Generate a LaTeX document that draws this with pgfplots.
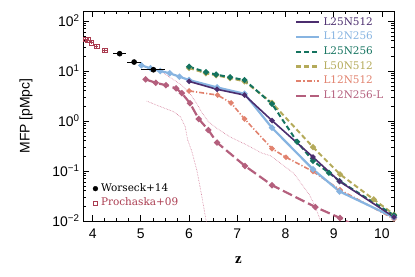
\documentclass[border=0pt]{standalone}
\usepackage{pgfplots}
\pgfplotsset{compat=1.18}
\usepackage{fontspec}
\setmainfont{Liberation Sans}
\newfontfamily\serif{DejaVu Serif}
\newfontfamily\bserif{Liberation Serif}
\definecolor{cPurple}{RGB}{75,45,110}
\definecolor{cBlue}{RGB}{135,180,225}
\definecolor{cTeal}{RGB}{20,115,95}
\definecolor{cOlive}{RGB}{180,170,90}
\definecolor{cSalmon}{RGB}{225,130,110}
\definecolor{cMauve}{RGB}{180,95,125}
\definecolor{cDot}{RGB}{210,120,150}
\definecolor{cProch}{RGB}{170,60,80}
\begin{document}
\begin{tikzpicture}
\begin{axis}[name=ax,
  scale only axis, width=311bp, height=210bp,
  xmin=3.8, xmax=10.25, ymode=log, ymin=0.01, ymax=158.49,
  /pgf/number format/assume math mode=true,
  axis line style={line width=1bp},
  xtick={4,5,6,7,8,9,10}, minor x tick num=3,
  ytick={0.01,0.1,1,10,100},
  yticklabels={10\textsuperscript{−2},10\textsuperscript{−1},10\textsuperscript{0},10\textsuperscript{1},10\textsuperscript{2}},
  tick align=inside, major tick length=6bp, minor tick length=3bp,
  every tick/.style={black, line width=0.8bp},
  tick label style={font=\fontsize{14}{14}\selectfont},
  xticklabel style={yshift=-4bp},
  xlabel={\bserif\bfseries z}, xlabel style={font=\fontsize{15}{15}\selectfont, at={(axis description cs:0.5,-0.186)}, anchor=center},
  ylabel={MFP [pMpc]}, ylabel style={font=\fontsize{14}{14}\selectfont, at={(axis description cs:-0.183,0.5)}, anchor=center},
  legend style={draw=none, fill=none, inner sep=0pt, at={(axis description cs:0.682,0.972)}, anchor=north west,
    font=\serif\fontsize{10.5}{10.5}\selectfont, row sep=4.2bp,
    nodes={inner ysep=0pt, inner xsep=3bp, text height=8bp, text depth=2.5bp},
    /tikz/every even column/.append style={column sep=5bp}},
  legend cell align=left,
  legend image code/.code={\draw[#1] (0bp,0bp) -- (23bp,0bp);},
]
% dotted lines
\addplot[cDot, line width=0.6bp, densely dotted, forget plot] coordinates {
 (5.12,2.5) (5.4,1.95) (5.68,1.53) (5.82,1.22) (5.92,0.77) (5.97,0.42) (6.05,0.26) (6.16,0.105) (6.26,0.033) (6.35,0.0105) (6.37,0.009)};
\addplot[cDot, line width=0.6bp, densely dotted, forget plot] coordinates {
 (5.4,10.0) (5.6,7.5) (5.85,5.2) (6.05,3.2) (6.15,2.3) (6.26,1.5) (6.4,0.97) (6.58,0.71) (6.85,0.48) (7.2,0.33) (7.5,0.23) (7.7,0.2) (8.17,0.09) (8.5,0.033) (8.62,0.019) (8.72,0.0105) (8.74,0.009)};
% L12N256-L
\addplot[cMauve, line width=2.2bp, dash pattern=on 10bp off 4bp, mark=*, mark size=1.8bp, mark options={solid}, forget plot] coordinates {
 (5.10,6.8) (5.31,5.8) (5.52,5.2) (5.73,4.5) (5.85,3.6) (6.02,2.26) (6.2,1.1) (6.4,0.66) (6.58,0.37) (7.16,0.126) (7.72,0.052) (8.62,0.019) (9.13,0.0115) (9.5,0.0075)};
% L12N512
\addplot[cSalmon, line width=1.6bp, dash pattern=on 5bp off 2bp on 1.2bp off 2bp, mark=*, mark size=1.8bp, mark options={solid}, forget plot] coordinates {
 (6.0,4.0) (6.59,3.3) (6.87,2.3) (7.15,1.1) (7.72,0.28) (8.01,0.188) (8.57,0.098) (9.13,0.042) (10.25,0.011)};
% L50N512
\addplot[cOlive, line width=2bp, dash pattern=on 5bp off 3bp, mark=*, mark size=1.8bp, mark options={solid}, forget plot] coordinates {
 (6.0,11.5) (6.35,9.0) (6.56,8.2) (6.85,7.2) (7.15,6.2) (7.72,2.3) (8.57,0.30) (9.13,0.086) (9.83,0.027) (10.25,0.0135)};
% L25N256
\addplot[cTeal, line width=2bp, dash pattern=on 5bp off 3bp, mark=*, mark size=1.8bp, mark options={solid}, forget plot] coordinates {
 (6.0,12.2) (6.35,9.5) (6.56,8.5) (6.85,7.5) (7.15,6.6) (7.72,2.2) (8.24,0.385) (8.57,0.16) (8.9,0.092) (9.12,0.063) (10.25,0.013)};
% L12N256
\addplot[cBlue, line width=2.2bp, mark=*, mark size=1.8bp, forget plot] coordinates {
 (5.01,13.0) (5.2,11.3) (5.4,10.0) (5.6,9.0) (5.8,7.7) (6.0,6.6) (6.58,4.7) (7.15,3.5) (7.72,0.73) (8.57,0.108) (9.12,0.039) (10.25,0.0118)};
% L25N512
\addplot[cPurple, line width=1.6bp, mark=*, mark size=1.8bp, forget plot] coordinates {
 (6.0,6.2) (6.58,4.3) (7.15,3.3) (7.72,1.02) (8.57,0.19) (9.12,0.062) (10.25,0.012)};
\addlegendimage{cPurple, line width=2bp}
\addlegendentry{\textcolor{cPurple}{L25N512}}
\addlegendimage{cBlue, line width=2.2bp}
\addlegendentry{\textcolor{cBlue}{L12N256}}
\addlegendimage{cTeal, line width=2.2bp, dash pattern=on 5bp off 3bp}
\addlegendentry{\textcolor{cTeal}{L25N256}}
\addlegendimage{cOlive, line width=2.2bp, dash pattern=on 5bp off 3bp}
\addlegendentry{\textcolor{cOlive}{L50N512}}
\addlegendimage{cSalmon, line width=2bp, dash pattern=on 5bp off 2bp on 1.2bp off 2bp}
\addlegendentry{\textcolor{cSalmon}{L12N512}}
\addlegendimage{cMauve, line width=2.2bp, dash pattern=on 10bp off 4bp}
\addlegendentry{\textcolor{cMauve}{L12N256-L}}
\end{axis}
\begin{axis}[
  scale only axis, width=311bp, height=210bp,
  xmin=3.8, xmax=10.25, ymode=log, ymin=0.01, ymax=158.49,
  hide axis,
  legend style={draw=none, fill=none, inner sep=0pt, at={(axis description cs:0.031,0.180)}, anchor=north west,
    font=\serif\fontsize{10.5}{10.5}\selectfont, row sep=3.9bp,
    nodes={inner ysep=0pt, inner xsep=3bp, text height=8bp, text depth=2.5bp},
    /tikz/every even column/.append style={column sep=4.6bp}},
  legend cell align=left,
]
\addplot[cProch, only marks, mark=square, mark size=2.3bp, line width=0.6bp, forget plot,
  error bars/.cd, x dir=both, x explicit, y dir=both, y explicit,
  error bar style={line width=0.6bp}, error mark=none] coordinates {
  (3.85,43) +- (0.03,3)
  (3.90,42) +- (0.03,3)
  (3.97,37) +- (0.03,3)
  (4.08,31) +- (0.03,2.5)
  (4.25,26) +- (0.06,2)};
\addplot[black, only marks, mark=*, mark size=2.4bp, line width=0.8bp, forget plot,
  error bars/.cd, x dir=both, x explicit, y dir=both, y explicit,
  error bar style={line width=0.8bp}, error mark=none] coordinates {
  (4.56,22.2) +- (0.13,1.5)
  (4.86,15.1) +- (0.14,1.2)
  (5.26,10.6) +- (0.25,1.0)};
\addlegendimage{legend image code/.code={\fill[black] (2.4bp,0bp) circle (2.4bp);}}
\addlegendentry{Worseck+14}
\addlegendimage{legend image code/.code={\draw[cProch, line width=0.6bp] (0.3bp,-2.1bp) rectangle (4.5bp,2.1bp);}}
\addlegendentry{\textcolor{cProch}{Prochaska+09}}
\end{axis}
\path[use as bounding box] ([xshift=-83bp,yshift=-56bp]ax.south west) rectangle ([xshift=21bp,yshift=11bp]ax.north east);
\end{tikzpicture}
\end{document}
